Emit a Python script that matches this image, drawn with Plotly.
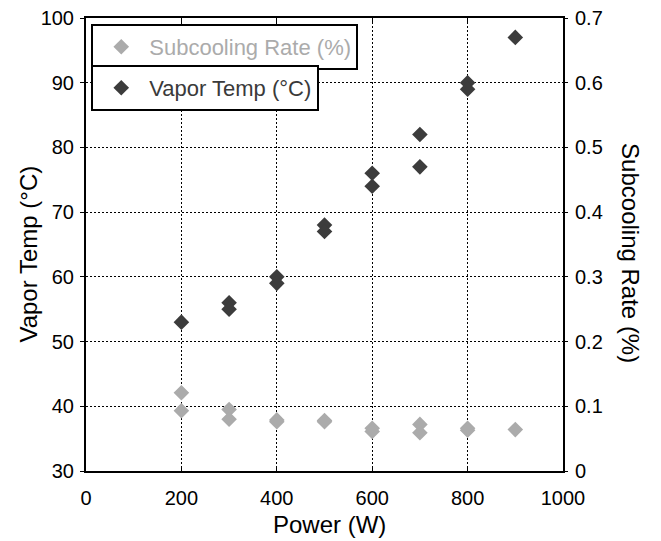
import plotly.graph_objects as go

power_vt = [200, 300, 300, 400, 400, 500, 500, 600, 600, 700, 700, 800, 800, 900]
vapor_temp = [53, 56, 55, 60, 59, 68, 67, 76, 74, 82, 77, 90, 89, 97]

power_sc = [200, 200, 300, 300, 400, 400, 500, 500, 600, 600, 700, 700, 800, 800, 900]
subcooling = [0.121, 0.093, 0.095, 0.080, 0.079, 0.076, 0.078, 0.076, 0.066, 0.061, 0.072, 0.059, 0.066, 0.063, 0.064]

x_ticks = [0, 200, 400, 600, 800, 1000]
left_ticks = [30, 40, 50, 60, 70, 80, 90, 100]
right_ticks = [0, 0.1, 0.2, 0.3, 0.4, 0.5, 0.6, 0.7]
right_tick_labels = ["0", "0.1", "0.2", "0.3", "0.4", "0.5", "0.6", "0.7"]

FONT = "Liberation Sans, Arial, sans-serif"
DARK = "#3c3c3c"
GRAY = "#ababab"
TICK = 20
TITLE = 24

fig = go.Figure()
fig.add_trace(go.Scatter(
    x=power_sc, y=subcooling, mode="markers", name="Subcooling Rate (%)",
    marker=dict(symbol="diamond", size=12, color=GRAY),
    yaxis="y2", legend="legend", showlegend=True))
fig.add_trace(go.Scatter(
    x=power_vt, y=vapor_temp, mode="markers", name="Vapor Temp (°C)",
    marker=dict(symbol="diamond", size=12, color=DARK),
    yaxis="y", legend="legend2", showlegend=True))

grid = dict(showgrid=True, gridcolor="black", gridwidth=1, griddash="2px,2px")

fig.update_layout(
    width=661, height=541,
    margin=dict(l=78, r=106, t=10, b=78, autoexpand=False),
    paper_bgcolor="white", plot_bgcolor="white",
    font=dict(family=FONT, color="black"),
    showlegend=True,
    xaxis=dict(range=[0, 1000], tickvals=x_ticks, mirror="ticks", automargin=False,
               showline=True, linecolor="black", linewidth=2,
               ticks="inside", ticklen=5, tickcolor="black", tickwidth=1,
               ticklabelstandoff=8, ticklabeloverflow="allow", zeroline=False,
               tickfont=dict(family=FONT, size=TICK, color="black"), **grid),
    yaxis=dict(range=[30, 100], tickvals=left_ticks, automargin=False,
               showline=True, linecolor="black", linewidth=2,
               ticks="outside", ticklen=4, tickcolor="black", tickwidth=1,
               ticklabelstandoff=2, ticklabeloverflow="allow", zeroline=False,
               tickfont=dict(family=FONT, size=TICK, color="black"), **grid),
    yaxis2=dict(range=[0, 0.7], tickvals=right_ticks, ticktext=right_tick_labels,
                overlaying="y", side="right", automargin=False,
                showline=True, linecolor="black", linewidth=2,
                ticks="outside", ticklen=3, tickcolor="black", tickwidth=1,
                ticklabelstandoff=3, ticklabeloverflow="allow",
                showgrid=False, zeroline=False,
                tickfont=dict(family=FONT, size=TICK, color="black")),
    legend=dict(x=0.011, y=0.9868, xanchor="left", yanchor="top",
                bgcolor="white", bordercolor="black", borderwidth=2,
                font=dict(family=FONT, size=22, color=GRAY),
                itemwidth=46),
    legend2=dict(x=0.011, y=0.8962, xanchor="left", yanchor="top",
                 bgcolor="white", bordercolor="black", borderwidth=2,
                 font=dict(family=FONT, size=22, color="#3a3a3a"),
                 itemwidth=46),
    annotations=[
        dict(text="Power (W)", x=0.5115, y=-0.118, xref="paper", yref="paper",
             xanchor="center", yanchor="middle", showarrow=False,
             font=dict(family=FONT, size=TITLE, color="black")),
        dict(text="Vapor Temp (°C)", textangle=-90,
             x=-0.1195, y=0.48, xref="paper", yref="paper",
             xanchor="center", yanchor="middle", showarrow=False,
             font=dict(family=FONT, size=TITLE, color="black")),
        dict(text="Subcooling Rate (%)", textangle=90,
             x=1.1426, y=0.481, xref="paper", yref="paper",
             xanchor="center", yanchor="middle", showarrow=False,
             font=dict(family=FONT, size=TITLE, color="black")),
    ],
)

fig.write_html("out.html")
